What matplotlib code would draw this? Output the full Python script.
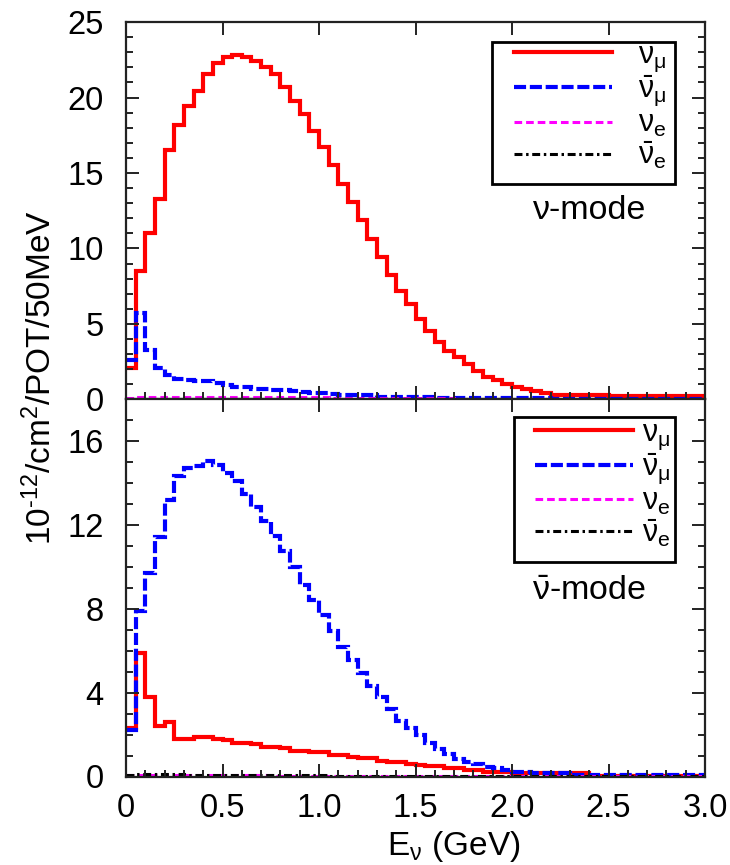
import numpy as np
import matplotlib
matplotlib.use("Agg")
import matplotlib.pyplot as plt
from matplotlib.lines import Line2D
from matplotlib.patches import Rectangle

plt.rcParams['font.family'] = ['Liberation Sans', 'DejaVu Sans']
plt.rcParams['mathtext.fontset'] = 'custom'
plt.rcParams['mathtext.rm'] = 'Liberation Sans'
plt.rcParams['mathtext.it'] = 'Liberation Sans:italic'
plt.rcParams['mathtext.bf'] = 'Liberation Sans:bold'
plt.rcParams['mathtext.default'] = 'regular'

# ---------------- data (10^-12 / cm^2 / POT / 50 MeV), 50 MeV bins 0-3 GeV ----------------
bin_width = 0.05
n_bins = 60
bin_edges = np.arange(n_bins + 1) * bin_width

# nu-mode
numode_numu = [
    2.10, 8.50, 11.00, 13.25, 16.55, 18.20, 19.45, 20.45, 21.55, 22.30,
    22.70, 22.80, 22.65, 22.40, 22.05, 21.55, 20.70, 19.80, 18.90, 17.75,
    16.70, 15.50, 14.30, 13.10, 11.90, 10.60, 9.45, 8.25, 7.20, 6.30,
    5.30, 4.55, 3.80, 3.24, 2.80, 2.32, 1.92, 1.52, 1.26, 1.04,
    0.86, 0.71, 0.55, 0.42, 0.33, 0.33, 0.28, 0.28, 0.28, 0.28,
    0.20, 0.20, 0.20, 0.20, 0.20, 0.20, 0.20, 0.20, 0.20, 0.20]
numode_numubar = [
    2.60, 5.75, 3.30, 2.10, 1.60, 1.33, 1.32, 1.25, 1.23, 1.08,
    0.97, 0.83, 0.81, 0.72, 0.70, 0.60, 0.60, 0.58, 0.47, 0.46,
    0.45, 0.35, 0.30, 0.29, 0.29, 0.28, 0.17, 0.16, 0.15, 0.15,
    0.15, 0.14, 0.13, 0.12, 0.12, 0.12, 0.11, 0.11, 0.10, 0.10,
    0.10, 0.09, 0.09, 0.08, 0.02, 0.02, 0.02, 0.02, 0.02, 0.02,
    0.02, 0.02, 0.02, 0.02, 0.02, 0.02, 0.02, 0.02, 0.02, 0.02]
numode_nue = [
    0.12, 0.15, 0.15, 0.15, 0.15, 0.15, 0.15, 0.15, 0.15, 0.15,
    0.15, 0.15, 0.15, 0.15, 0.15, 0.15, 0.15, 0.14, 0.14, 0.14,
    0.14, 0.13, 0.13, 0.13, 0.12, 0.12, 0.12, 0.11, 0.11, 0.10,
    0.10, 0.09, 0.08, 0.07, 0.06, 0.05, 0.05, 0.04, 0.04, 0.03,
    0.03, 0.03, 0.03, 0.02, 0.02, 0.02, 0.02, 0.02, 0.02, 0.02,
    0.01, 0.01, 0.01, 0.01, 0.01, 0.01, 0.01, 0.01, 0.01, 0.01]
numode_nuebar = [
    0.04, 0.05, 0.04, 0.04, 0.03, 0.03, 0.03, 0.03, 0.03, 0.03,
    0.02, 0.02, 0.02, 0.02, 0.02, 0.02, 0.02, 0.02, 0.02, 0.02,
    0.01, 0.01, 0.01, 0.01, 0.01, 0.01, 0.01, 0.01, 0.01, 0.01,
    0.01, 0.01, 0.01, 0.01, 0.01, 0.01, 0.01, 0.01, 0.01, 0.01,
    0.01, 0.01, 0.01, 0.01, 0.01, 0.01, 0.01, 0.01, 0.01, 0.01,
    0.01, 0.01, 0.01, 0.01, 0.01, 0.01, 0.01, 0.01, 0.01, 0.01]

# anti-nu-mode
anumode_numu = [
    2.31, 5.92, 3.79, 2.39, 2.59, 1.78, 1.78, 1.88, 1.88, 1.78,
    1.72, 1.62, 1.62, 1.54, 1.43, 1.43, 1.34, 1.24, 1.24, 1.15,
    1.15, 1.05, 1.05, 0.95, 0.86, 0.86, 0.76, 0.67, 0.67, 0.60,
    0.53, 0.50, 0.50, 0.41, 0.41, 0.31, 0.31, 0.21, 0.21, 0.21,
    0.15, 0.15, 0.15, 0.15, 0.15, 0.15, 0.18, 0.18, 0.02, 0.02,
    0.02, 0.02, 0.02, 0.02, 0.02, 0.02, 0.02, 0.02, 0.02, 0.02]
anumode_numubar = [
    2.23, 7.92, 9.71, 11.42, 13.20, 14.35, 14.72, 14.84, 15.04, 14.88,
    14.48, 14.13, 13.48, 12.86, 12.22, 11.50, 10.79, 9.99, 9.15, 8.43,
    7.72, 6.97, 6.20, 5.54, 4.93, 4.33, 3.79, 3.21, 2.67, 2.31,
    1.96, 1.59, 1.32, 1.07, 0.85, 0.71, 0.58, 0.47, 0.39, 0.31,
    0.23, 0.23, 0.17, 0.17, 0.17, 0.17, 0.05, 0.05, 0.05, 0.05,
    0.05, 0.05, 0.05, 0.05, 0.05, 0.05, 0.05, 0.05, 0.05, 0.05]
anumode_nue = [
    0.05, 0.06, 0.06, 0.06, 0.06, 0.06, 0.06, 0.06, 0.05, 0.05,
    0.05, 0.05, 0.05, 0.05, 0.05, 0.04, 0.04, 0.04, 0.04, 0.04,
    0.04, 0.04, 0.03, 0.03, 0.03, 0.03, 0.03, 0.03, 0.03, 0.02,
    0.02, 0.02, 0.02, 0.02, 0.02, 0.02, 0.02, 0.02, 0.02, 0.02,
    0.01, 0.01, 0.01, 0.01, 0.01, 0.01, 0.01, 0.01, 0.01, 0.01,
    0.01, 0.01, 0.01, 0.01, 0.01, 0.01, 0.01, 0.01, 0.01, 0.01]
anumode_nuebar = [
    0.08, 0.10, 0.10, 0.10, 0.10, 0.10, 0.09, 0.09, 0.09, 0.08,
    0.08, 0.08, 0.07, 0.07, 0.07, 0.06, 0.06, 0.06, 0.05, 0.05,
    0.05, 0.04, 0.04, 0.04, 0.04, 0.03, 0.03, 0.03, 0.03, 0.02,
    0.02, 0.02, 0.02, 0.02, 0.02, 0.02, 0.02, 0.01, 0.01, 0.01,
    0.01, 0.01, 0.01, 0.01, 0.01, 0.01, 0.01, 0.01, 0.01, 0.01,
    0.01, 0.01, 0.01, 0.01, 0.01, 0.01, 0.01, 0.01, 0.01, 0.01]

legend_labels = [r'$\nu_{\mu}$', r'$\bar{\nu}_{\mu}$', r'$\nu_{e}$', r'$\bar{\nu}_{e}$']
x_ticks = [0, 0.5, 1.0, 1.5, 2.0, 2.5, 3.0]
x_ticklabels = ['0', '0.5', '1.0', '1.5', '2.0', '2.5', '3.0']
top_yticks = [0, 5, 10, 15, 20, 25]
bot_yticks = [0, 4, 8, 12, 16]

# ---------------- styles ----------------
styles = [
    dict(color='#ff0000', lw=3.0, ls='-'),
    dict(color='#0000ff', lw=3.0, ls=(0, (2.9, 0.9))),
    dict(color='#ff00ff', lw=2.2, ls=(0, (2.5, 1.3))),
    dict(color='#000000', lw=2.2, ls=(0, (2.6, 1.2, 0.8, 1.2))),
]

W, H = 730, 865
fig = plt.figure(figsize=(W / 100, H / 100), dpi=100)

def frac_rect(x0, y0, x1, y1):
    return [x0 / W, 1 - y1 / H, (x1 - x0) / W, (y1 - y0) / H]

ax1 = fig.add_axes(frac_rect(126, 22, 705, 399.5))
ax2 = fig.add_axes(frac_rect(126, 399.5, 705, 776.5))

def style_axis(ax, ylim, yticks, show_xlabels):
    ax.set_xlim(0, 3.0)
    ax.set_ylim(*ylim)
    ax.set_xticks(x_ticks)
    ax.set_xticks(np.arange(0, 3.001, 0.1), minor=True)
    ax.set_yticks(yticks)
    ax.set_yticks(np.arange(ylim[0], ylim[1] + 0.001, 1), minor=True)
    if show_xlabels:
        ax.set_xticklabels(x_ticklabels)
    else:
        ax.set_xticklabels([])
    ax.tick_params(which='both', direction='in', top=True, right=True,
                   width=1.4, colors='#222222', labelcolor='black')
    ax.tick_params(which='major', length=9.5)
    ax.tick_params(which='minor', length=5)
    ax.tick_params(axis='x', which='minor', top=False)
    ax.tick_params(axis='y', labelsize=23.5, pad=16)
    ax.tick_params(axis='x', labelsize=23.5, pad=12)
    for s in ax.spines.values():
        s.set_linewidth(1.6)
        s.set_color('#222222')

def draw_panel(ax, series):
    for vals, st, lab in zip(series, styles, legend_labels):
        ax.stairs(vals, bin_edges, baseline=None, color=st['color'],
                  linewidth=st['lw'], linestyle=st['ls'], label=lab)

draw_panel(ax1, [numode_numu, numode_numubar, numode_nue, numode_nuebar])
draw_panel(ax2, [anumode_numu, anumode_numubar, anumode_nue, anumode_nuebar])

style_axis(ax1, (0, 25), top_yticks, False)
style_axis(ax2, (0, 18), bot_yticks, True)

leg_handles = [Line2D([], [], color=st['color'], lw=st['lw'], ls=st['ls']) for st in styles]

def add_legend(ax, anchor, textpad, box):
    # box: (x0, y0, x1, y1) in axes fraction
    x0, y0, x1, y1 = box
    ax.add_patch(Rectangle((x0, y0), x1 - x0, y1 - y0, transform=ax.transAxes,
                           facecolor='white', edgecolor='black', linewidth=2.0,
                           zorder=4.5))
    leg = ax.legend(leg_handles, legend_labels, loc='upper left', bbox_to_anchor=anchor,
                    fontsize=22, frameon=False, handlelength=3.2, handletextpad=textpad,
                    labelspacing=0.0, borderpad=0.0, borderaxespad=0)
    leg.set_zorder(5)
    return leg

add_legend(ax1, (0.670, 0.952), 0.85, (0.632, 0.570, 0.948, 0.947))
add_legend(ax2, (0.706, 0.952), 0.3, (0.670, 0.568, 0.948, 0.954))

ax1.text(0.801, 0.50, 'ν-mode', transform=ax1.transAxes, fontsize=24.5,
         ha='center', va='center')
ax2.text(0.80, 0.49, r'$\bar{\nu}$-mode', transform=ax2.transAxes, fontsize=24.5,
         ha='center', va='center')

fig.text(41 / W, 1 - 378 / H, r'10$^{\text{-12}}$/cm$^{2}$/POT/50MeV', rotation=90,
         fontsize=24, ha='center', va='center')
fig.text(454 / W, 1 - 855 / H, r'E$_{\nu}$ (GeV)', fontsize=24,
         ha='center', va='baseline')

fig.savefig('out.png', dpi=100)
